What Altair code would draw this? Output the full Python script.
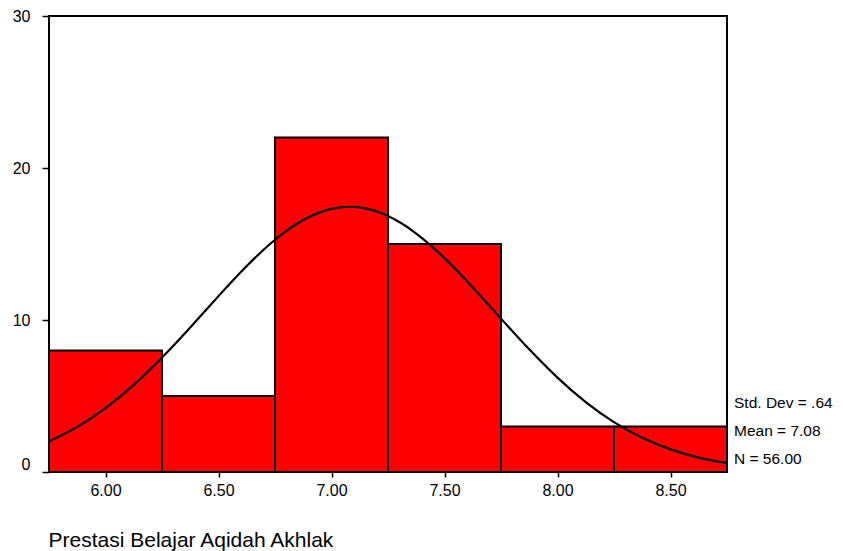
import altair as alt
import pandas as pd

# Histogram bins (bin edges) and counts
bin_start = [5.75, 6.25, 6.75, 7.25, 7.75, 8.25]
bin_end = [6.25, 6.75, 7.25, 7.75, 8.25, 8.75]
counts = [8, 5, 22, 15, 3, 3]

# Normal curve
curve_x = [5.750, 5.875, 6.000, 6.125, 6.250, 6.375, 6.500, 6.625, 6.750, 6.875,
           7.000, 7.125, 7.250, 7.375, 7.500, 7.625, 7.750, 7.875, 8.000, 8.125,
           8.250, 8.375, 8.500, 8.625, 8.750]
curve_y = [2.01, 2.97, 4.20, 5.73, 7.53, 9.51, 11.57, 13.55, 15.28, 16.58,
           17.31, 17.41, 16.84, 15.69, 14.07, 12.14, 10.09, 8.07, 6.21, 4.60,
           3.28, 2.25, 1.49, 0.95, 0.58]

stats_lines = ["Std. Dev = .64", "Mean = 7.08", "N = 56.00"]
x_ticks = [6.0, 6.5, 7.0, 7.5, 8.0, 8.5]
y_ticks = [0, 10, 20, 30]
x_title = "Prestasi Belajar Aqidah Akhlak"

FONT = "Liberation Sans"

bars_df = pd.DataFrame({"start": bin_start, "end": bin_end, "count": counts})
curve_df = pd.DataFrame({"x": curve_x, "y": curve_y})

x_scale = alt.Scale(domain=[5.75, 8.75], nice=False, zero=False)
y_scale = alt.Scale(domain=[0, 30], nice=False)

x_axis = alt.Axis(
    values=x_ticks, format=".2f", grid=False, domain=False,
    tickSize=5, tickColor="black", tickWidth=1.5,
    labelFontSize=16, labelFont=FONT, labelColor="black", labelPadding=5,
    title=x_title, titleFont=FONT, titleFontSize=21, titleFontWeight="normal",
    titleColor="black", titleAnchor="start", titleAlign="left",
    titleBaseline="alphabetic", titleX=-1, titleY=74,
)
y_axis = alt.Axis(
    values=y_ticks, grid=False, domain=False,
    tickSize=7, tickColor="black", tickWidth=1.5,
    labelFontSize=16, labelFont=FONT, labelColor="black", labelPadding=12,
    labelBaseline={"condition": {"test": "datum.value == 0", "value": "bottom"}, "value": "middle"},
    title=None,
)

bars = alt.Chart(bars_df).mark_rect(
    fill="#FF0000", stroke="black", strokeWidth=2
).encode(
    x=alt.X("start:Q", scale=x_scale, axis=x_axis),
    x2="end:Q",
    y=alt.Y("count:Q", scale=y_scale, axis=y_axis),
    y2=alt.datum(0),
)

curve = alt.Chart(curve_df).mark_line(
    color="black", strokeWidth=2.2, interpolate="natural"
).encode(
    x=alt.X("x:Q", scale=x_scale),
    y=alt.Y("y:Q", scale=y_scale),
)

texts = []
for i, line in enumerate(stats_lines):
    texts.append(
        alt.Chart(pd.DataFrame({"t": [line]})).mark_text(
            align="left", baseline="middle", font=FONT, fontSize=15.5, color="black"
        ).encode(
            text="t:N",
            x=alt.value(685),
            y=alt.value(387 + 28 * i),
        )
    )

chart = alt.layer(bars, curve, *texts).properties(
    width=678, height=456,
    padding={"left": 41, "top": 8, "right": 108, "bottom": 92},
    autosize=alt.AutoSizeParams(type="none"),
).configure_view(
    stroke="black", strokeWidth=2
)

chart.save("out.html", embed_options={"renderer": "svg", "actions": False})
